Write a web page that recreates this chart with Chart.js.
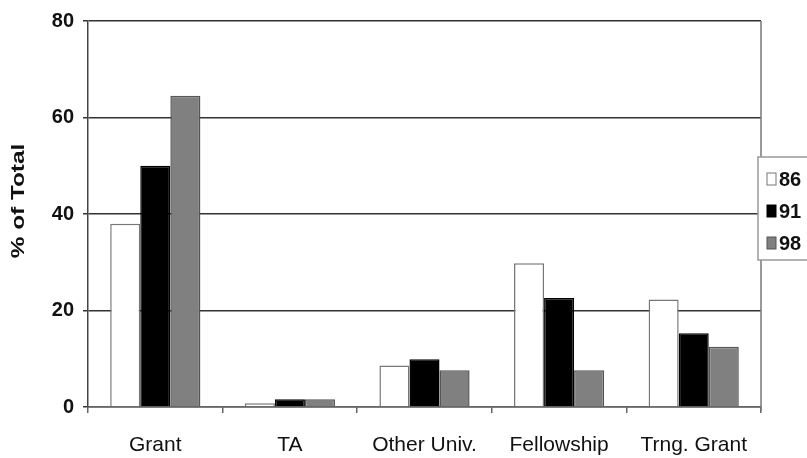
<!DOCTYPE html>
<html>
<head>
<meta charset="utf-8">
<script src="https://cdn.jsdelivr.net/npm/chart.js@4/dist/chart.umd.min.js"></script>
<style>
  html, body { margin: 0; padding: 0; background: #fff; overflow: hidden; }
  #wrap { width: 807px; height: 458px; }
</style>
</head>
<body>
<div id="wrap"><canvas id="c" width="807" height="458"></canvas></div>
<script>
// Source of support, share of total by year
const categories = ['Grant', 'TA', 'Other Univ.', 'Fellowship', 'Trng. Grant'];
const years = ['86', '91', '98'];
const share86 = [38, 0.8, 8.6, 29.8, 22.3];
const share91 = [50, 1.6, 9.9, 22.6, 15.3];
const share98 = [64.5, 1.6, 7.6, 7.6, 12.5];
const yTicks = [0, 20, 40, 60, 80];
const yTitle = '% of Total';

const FONT = "'Liberation Sans', Arial, sans-serif";

// Axis title, right-hand frame and a boxed legend
const framePlugin = {
  id: 'frame',
  afterDraw(chart) {
    const { ctx, chartArea: a } = chart;
    ctx.save();
    ctx.strokeStyle = '#777';
    ctx.lineWidth = 1.5;
    ctx.beginPath();
    ctx.moveTo(a.right, a.top);
    ctx.lineTo(a.right, a.bottom + 4);
    ctx.stroke();

    // rotated y title, slightly widened
    ctx.save();
    ctx.translate(19, 201);
    ctx.rotate(-Math.PI / 2);
    ctx.scale(1.28, 1);
    ctx.font = "bold 19px " + FONT;
    ctx.fillStyle = '#111';
    ctx.textAlign = 'center';
    ctx.textBaseline = 'middle';
    ctx.fillText(yTitle, 0, 0);
    ctx.restore();

    // legend
    const lx = 758, ly = 157, lw = 60, lh = 103;
    ctx.fillStyle = '#fff';
    ctx.strokeStyle = '#999';
    ctx.lineWidth = 1.5;
    ctx.fillRect(lx, ly, lw, lh);
    ctx.strokeRect(lx, ly, lw, lh);
    ctx.font = "bold 20px " + FONT;
    ctx.textBaseline = 'middle';
    chart.data.datasets.forEach((ds, i) => {
      const y = 179 + i * 32;
      ctx.fillStyle = ds.backgroundColor;
      ctx.strokeStyle = ds.borderColor;
      ctx.lineWidth = 1;
      ctx.fillRect(767, y - 6, 9, 12);
      ctx.strokeRect(767, y - 6, 9, 12);
      ctx.fillStyle = '#111';
      ctx.fillText(ds.label, 779, y + 1);
    });
    ctx.restore();
  }
};

new Chart(document.getElementById('c'), {
  type: 'bar',
  data: {
    labels: categories,
    datasets: [
      { label: years[0], data: share86, backgroundColor: '#ffffff', borderColor: '#777777', borderWidth: 1.5 },
      { label: years[1], data: share91, backgroundColor: '#000000', borderColor: '#000000', borderWidth: 1.5 },
      { label: years[2], data: share98, backgroundColor: '#808080', borderColor: '#555555', borderWidth: 1.5 }
    ]
  },
  options: {
    responsive: false,
    animation: false,
    layout: { padding: { top: 17, right: 46, bottom: 0, left: 0 } },
    plugins: { legend: { display: false }, tooltip: { enabled: false } },
    datasets: { bar: { barPercentage: 1.0, categoryPercentage: 0.67 } },
    scales: {
      x: {
        grid: { offset: true, drawOnChartArea: false, drawTicks: true, tickLength: 6, color: '#666', lineWidth: 1.5 },
        border: { display: true, color: '#666', width: 1.5 },
        ticks: { color: '#111', padding: 20, font: { family: FONT, size: 21 } },
        afterFit(s) { s.height = 51; }
      },
      y: {
        min: 0, max: 80,
        afterBuildTicks(s) { s.ticks = yTicks.map(v => ({ value: v })); },
        grid: { color: '#333', lineWidth: 1.5, tickLength: 5, drawTicks: true },
        border: { display: true, color: '#444', width: 1.5 },
        ticks: { color: '#111', padding: 9, font: { family: FONT, size: 20, weight: 'bold' } },
        afterFit(s) { s.width = 88; }
      }
    }
  },
  plugins: [framePlugin]
});
</script>
</body>
</html>
